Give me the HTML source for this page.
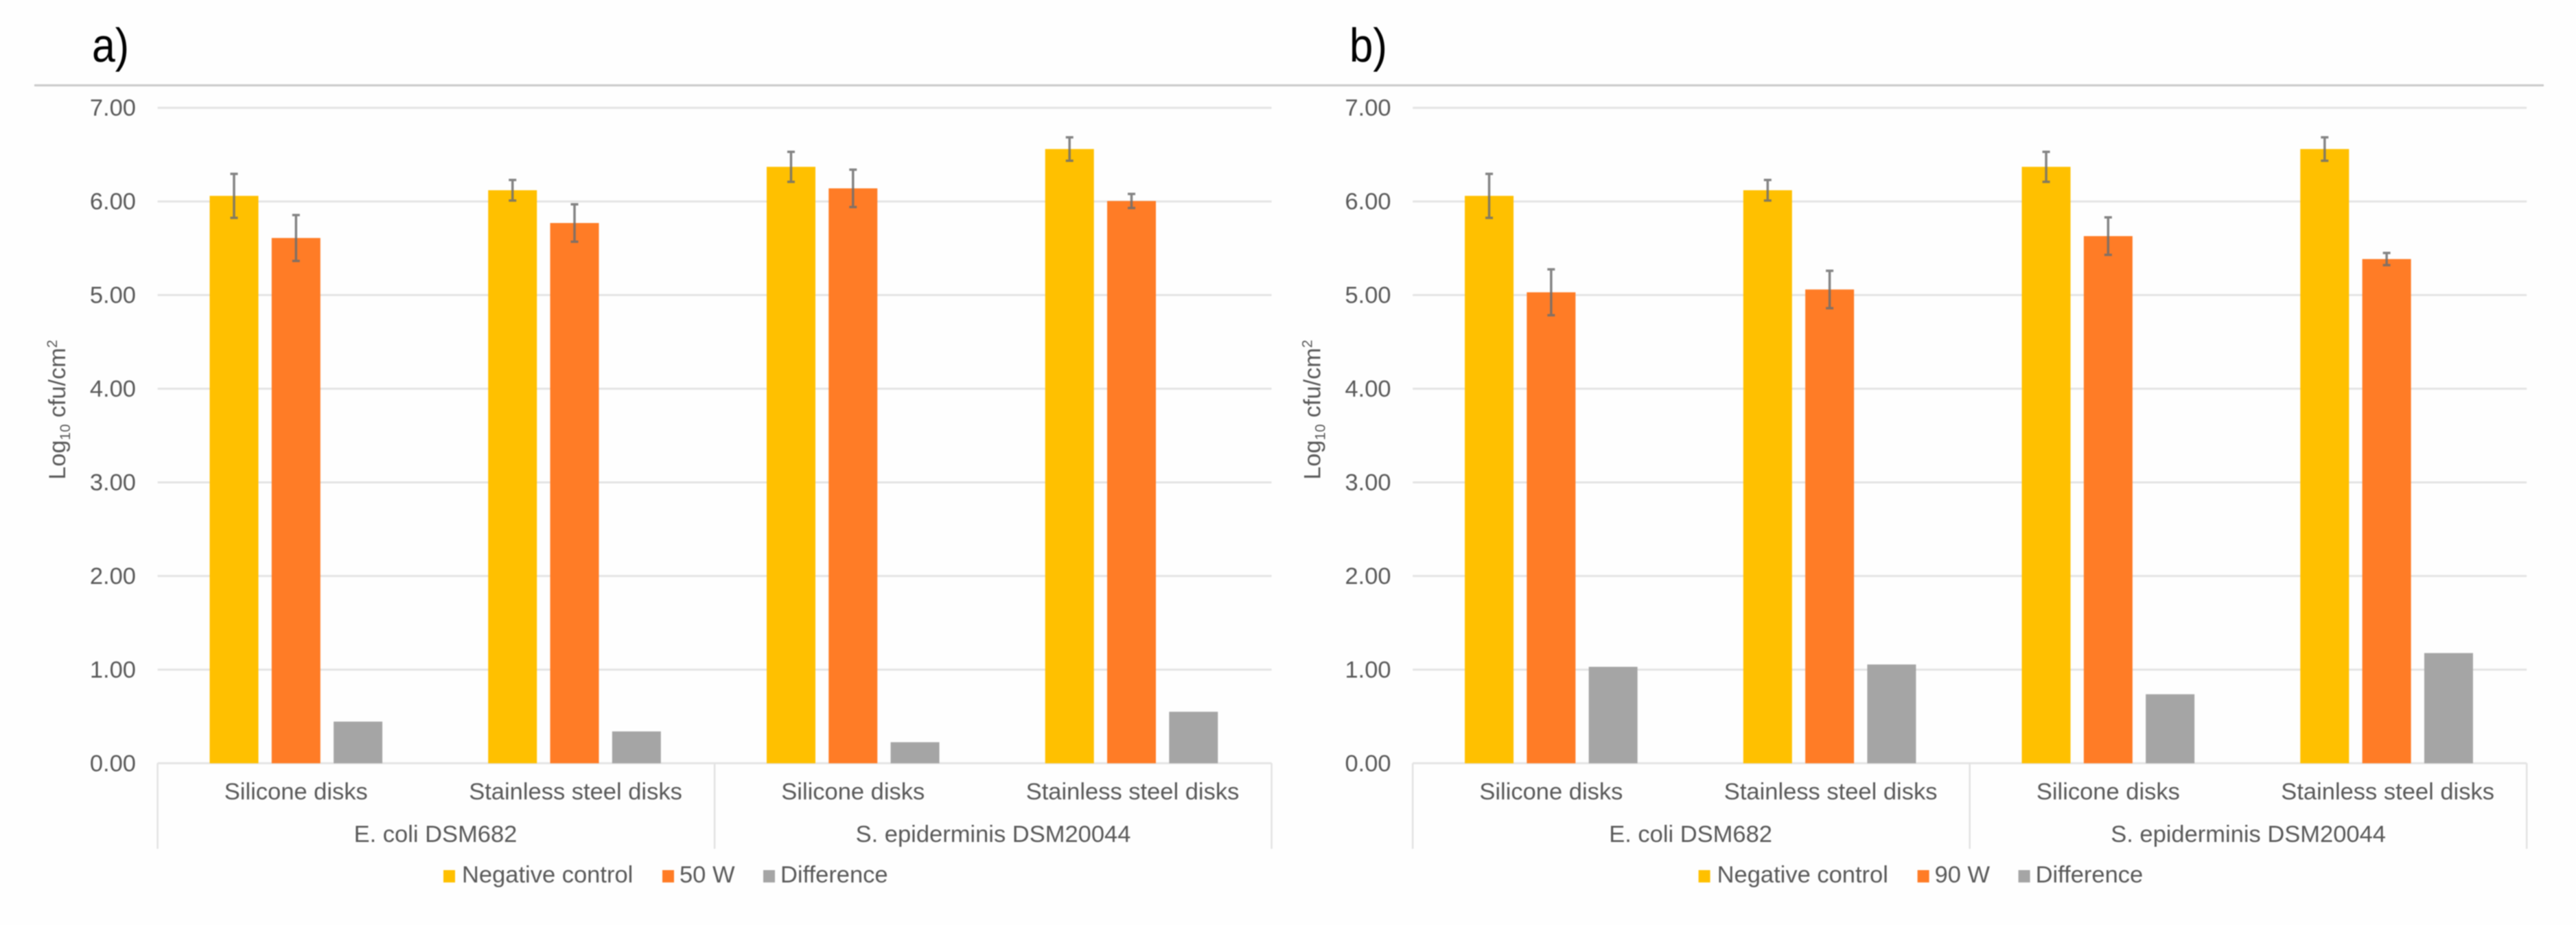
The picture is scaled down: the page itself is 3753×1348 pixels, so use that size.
<!DOCTYPE html>
<html lang="en">
<head>
<meta charset="utf-8">
<title>Log10 cfu/cm2 reduction charts</title>
<style>
  html, body { margin: 0; padding: 0; background: #fefefe; }
  body { width: 3753px; height: 1348px; overflow: hidden; }
  svg { display: block; filter: blur(0.9px); }
  text { font-family: "Liberation Sans", sans-serif; fill: #595959; font-size: 34.5px; }
  .panel-label { fill: #000; font-size: 70px; }
</style>
</head>
<body>
<svg id="figure" xmlns="http://www.w3.org/2000/svg" width="3753" height="1348" viewBox="0 0 3753 1348">
  <rect x="0" y="0" width="3753" height="1348" fill="#fefefe"/>
  <line x1="50" x2="3706" y1="124.4" y2="124.4" stroke="#c9c9c9" stroke-width="3"/>
  <text class="panel-label" x="134" y="90" textLength="54" lengthAdjust="spacingAndGlyphs">a)</text>
  <text class="panel-label" x="1966" y="90" textLength="55" lengthAdjust="spacingAndGlyphs">b)</text>

  <g id="chart-a">
    <text transform="translate(95,699) rotate(-90)">Log<tspan font-size="21" dy="7">10</tspan><tspan dy="-7"> cfu/cm</tspan><tspan font-size="21" dy="-12">2</tspan></text>
    <text x="634.5" y="1227" text-anchor="middle">E. coli DSM682</text>
    <text x="1447" y="1227" text-anchor="middle">S. epiderminis DSM20044</text>
    <g>
      <rect x="646" y="1268" width="17" height="18" fill="#ffc000"/>
      <text x="673" y="1286">Negative control</text>
      <rect x="965" y="1268" width="17" height="18" fill="#ff7c26"/>
      <text x="990" y="1286">50 W</text>
      <rect x="1112" y="1268" width="17" height="18" fill="#a5a5a5"/>
      <text x="1137" y="1286">Difference</text>
    </g>
  </g>

  <g id="chart-b" transform="translate(1828.6,0)">
    <text transform="translate(95,699) rotate(-90)">Log<tspan font-size="21" dy="7">10</tspan><tspan dy="-7"> cfu/cm</tspan><tspan font-size="21" dy="-12">2</tspan></text>
    <text x="634.5" y="1227" text-anchor="middle">E. coli DSM682</text>
    <text x="1447" y="1227" text-anchor="middle">S. epiderminis DSM20044</text>
    <g>
      <rect x="646" y="1268" width="17" height="18" fill="#ffc000"/>
      <text x="673" y="1286">Negative control</text>
      <rect x="965" y="1268" width="17" height="18" fill="#ff7c26"/>
      <text x="990" y="1286">90 W</text>
      <rect x="1112" y="1268" width="17" height="18" fill="#a5a5a5"/>
      <text x="1137" y="1286">Difference</text>
    </g>
  </g>
</svg>

<script>
// ---- chart data ----
const categories = ["Silicone disks", "Stainless steel disks", "Silicone disks", "Stainless steel disks"];
const tickValues = [0, 1, 2, 3, 4, 5, 6, 7];
const tickLabels = ["0.00", "1.00", "2.00", "3.00", "4.00", "5.00", "6.00", "7.00"];

const controlValues = [6.06, 6.12, 6.37, 6.56];
const controlErrors = [0.235, 0.11, 0.16, 0.125];

const treated50Values = [5.61, 5.77, 6.14, 6.005];
const treated50Errors = [0.245, 0.2, 0.2, 0.075];
const difference50Values = [0.445, 0.34, 0.225, 0.55];

const treated90Values = [5.03, 5.06, 5.63, 5.385];
const treated90Errors = [0.245, 0.2, 0.2, 0.065];
const difference90Values = [1.03, 1.055, 0.737, 1.177];

// ---- axis functions ----
const SVG_NS = 'http://www.w3.org/2000/svg';
const plotLeft = 229.6;
const categoryWidth = 405.75;
const plotRight = plotLeft + categoryWidth * categories.length;
const baselineY = 1112.3;
const unitHeight = 136.45;
const barWidth = 71;
const barStep = 90.3;
const barShift = -1.2;

function yScale(value) {
  return baselineY - value * unitHeight;
}
function xScale(categoryIndex, seriesIndex) {
  return plotLeft + (categoryIndex + 0.5) * categoryWidth + barShift + (seriesIndex - 1) * barStep;
}
function make(parent, tag, props) {
  const node = document.createElementNS(SVG_NS, tag);
  for (const key in props) node.setAttribute(key, props[key]);
  parent.appendChild(node);
  return node;
}

function drawChart(root, series) {
  const first = root.firstElementChild;

  // gridlines and tick labels
  const axis = make(root, 'g', {});
  
  
  root.insertBefore(axis, first);
  tickValues.forEach(function (value, i) {
    const y = yScale(value);
    const grid = make(axis, 'line', { x1: plotLeft, x2: plotRight, y1: y, y2: y, stroke: '#e4e4e4', 'stroke-width': 3 });
    
    
    const label = make(axis, 'text', { x: 198, y: y + 11.5, 'text-anchor': 'end' });
    label.textContent = tickLabels[i];
    
    
  });

  // multi-level category separators: outer edges and the middle
  [0, categories.length / 2, categories.length].forEach(function (position) {
    const x = plotLeft + position * categoryWidth;
    const sep = make(axis, 'line', { x1: x, x2: x, y1: baselineY, y2: 1237, stroke: '#e2e2e2', 'stroke-width': 2.5 });
    
    
  });

  // category labels
  categories.forEach(function (name, c) {
    const label = make(axis, 'text', { x: xScale(c, 1) + (name.length > 15 ? 1.5 : 0), y: 1165, 'text-anchor': 'middle' });
    label.textContent = name;
    
    
  });

  // bars and error bars
  const marks = make(root, 'g', {});
  
  
  root.insertBefore(marks, first);
  series.forEach(function (s, seriesIndex) {
    s.values.forEach(function (value, c) {
      const center = xScale(c, seriesIndex);
      const top = yScale(value);
      const bar = make(marks, 'rect', { x: center - barWidth / 2, y: top, width: barWidth, height: baselineY - top, fill: s.color });
      
      
    });
  });
  series.forEach(function (s, seriesIndex) {
    if (!s.errors) return;
    s.errors.forEach(function (err, c) {
      const center = xScale(c, seriesIndex);
      const hi = yScale(s.values[c] + err);
      const lo = yScale(s.values[c] - err);
      const whisker = make(marks, 'path', {
        d: 'M' + (center - 5.5) + ' ' + hi + 'H' + (center + 5.5) + 'M' + center + ' ' + hi + 'V' + lo + 'M' + (center - 5.5) + ' ' + lo + 'H' + (center + 5.5),
        fill: 'none', stroke: '#6e6e6e', 'stroke-opacity': 0.85, 'stroke-width': 3.5
      });
      
      
    });
  });
}

drawChart(document.getElementById('chart-a'), [
  { key: 'negative-control', color: '#ffc000', values: controlValues, errors: controlErrors },
  { key: '50w', color: '#ff7c26', values: treated50Values, errors: treated50Errors },
  { key: 'difference', color: '#a5a5a5', values: difference50Values, errors: null }
]);
drawChart(document.getElementById('chart-b'), [
  { key: 'negative-control', color: '#ffc000', values: controlValues, errors: controlErrors },
  { key: '90w', color: '#ff7c26', values: treated90Values, errors: treated90Errors },
  { key: 'difference', color: '#a5a5a5', values: difference90Values, errors: null }
]);
</script>
</body>
</html>
